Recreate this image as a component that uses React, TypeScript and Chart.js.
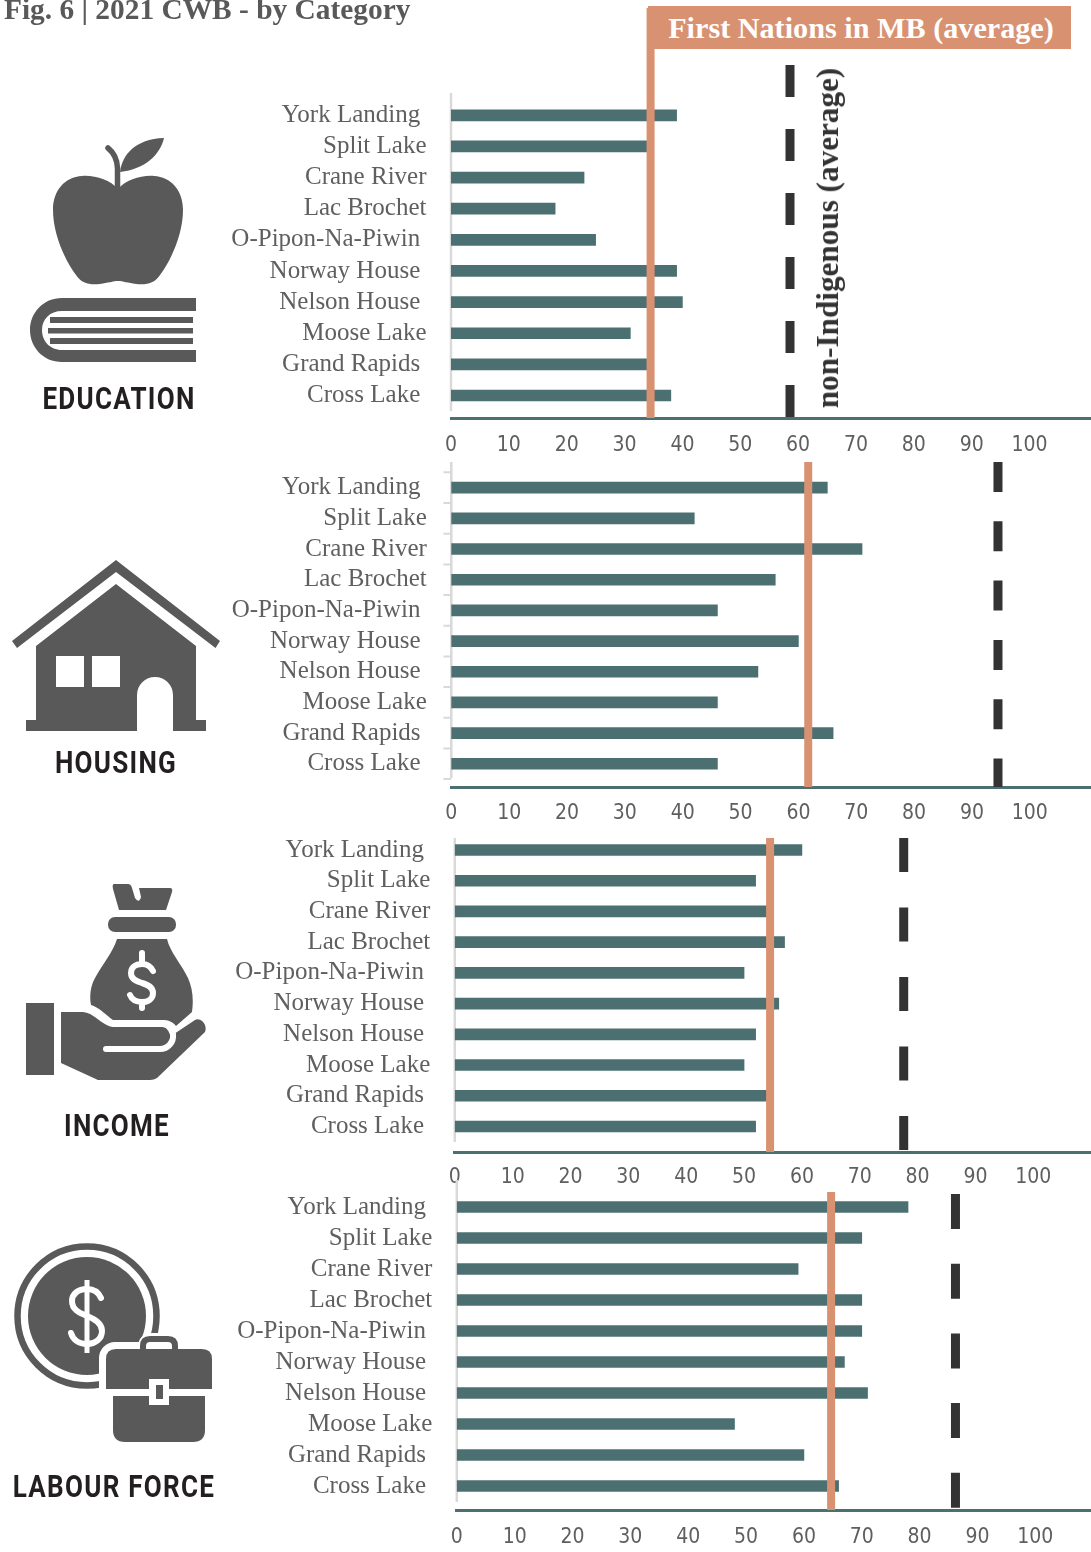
import React, { useEffect, useRef } from "react";
import { Chart, registerables } from "chart.js";

Chart.register(...registerables);

const categories = [
  "York Landing ",
  "Split Lake",
  "Crane River",
  "Lac Brochet",
  "O-Pipon-Na-Piwin ",
  "Norway House ",
  "Nelson House ",
  "Moose Lake",
  "Grand Rapids ",
  "Cross Lake ",
];
const xTickValues = [0, 10, 20, 30, 40, 50, 60, 70, 80, 90, 100];

const educationValues = [39, 35, 23, 18, 25, 39, 40, 31, 35, 38];
const housingValues = [65, 42, 71, 56, 46, 60, 53, 46, 66, 46];
const incomeValues = [60, 52, 54, 57, 50, 56, 52, 50, 54, 52];
const labourValues = [78, 70, 59, 70, 70, 67, 71, 48, 60, 66];

const firstNationsAverage = [34.5, 61.7, 54.5, 64.7];
const nonIndigenousAverage = [58.6, 94.5, 77.6, 86.2];

const TEAL = "#4C7071";
const ORANGE = "#D89272";
const DARK = "#333333";
const GREY_TEXT = "#5F5F5F";
const AXIS_GREY = "#D9D9D9";
const SERIF = '"Liberation Serif", serif';
const NARROW = '"DejaVu Sans Condensed", "DejaVu Sans", sans-serif';
const LABEL_FONT = 'Roboto, sans-serif';
const UNIT_PX = 5.785;

type Panel = {
  values: number[];
  fn: number;
  non: number;
  x0: number;
  top: number;
  bottom: number;
  first: number;
  step: number;
  darkTop: number;
  axisTop: number;
  axisBottom: number;
  dash: number;
  gap: number;
  tickPad: number;
  boundaryTicks: boolean;
};

const panels: Panel[] = [
  { values: educationValues, fn: firstNationsAverage[0], non: nonIndigenousAverage[0], x0: 451, top: 8, bottom: 418, first: 115.3, step: 31.13, darkTop: 65, axisTop: 93, axisBottom: 411, dash: 32, gap: 32, tickPad: 7, boundaryTicks: false },
  { values: housingValues, fn: firstNationsAverage[1], non: nonIndigenousAverage[1], x0: 451.3, top: 462, bottom: 787, first: 487.7, step: 30.67, darkTop: 462, axisTop: 462, axisBottom: 778, dash: 30, gap: 29.3, tickPad: 6, boundaryTicks: true },
  { values: incomeValues, fn: firstNationsAverage[2], non: nonIndigenousAverage[2], x0: 454.8, top: 838, bottom: 1152, first: 850, step: 30.72, darkTop: 838, axisTop: 838, axisBottom: 1142, dash: 34, gap: 35.5, tickPad: 5, boundaryTicks: false },
  { values: labourValues, fn: firstNationsAverage[3], non: nonIndigenousAverage[3], x0: 456.8, top: 1192, bottom: 1510, first: 1207, step: 31, darkTop: 1194, axisTop: 1180, axisBottom: 1502, dash: 35, gap: 34.7, tickPad: 7, boundaryTicks: false },
];

const iconLabels = [
  { text: "EDUCATION", cx: 118.5, cy: 398 },
  { text: "HOUSING", cx: 116, cy: 762 },
  { text: "INCOME", cx: 116.5, cy: 1125 },
  { text: "LABOUR FORCE", cx: 113.5, cy: 1486 },
];

function PanelChart({ panel }: { panel: Panel }) {
  const ref = useRef<HTMLCanvasElement>(null);
  const PAD = 14;
  const AXIS_H = 40;
  const canvasTop = panel.top - PAD;
  const canvasH = panel.bottom - panel.top + PAD + AXIS_H;

  useEffect(() => {
    const toIndex = (px: number) => (px - panel.first) / panel.step;
    const boundaryData: any[] = [];
    if (panel.boundaryTicks) {
      for (let i = 0; i <= categories.length; i++) {
        boundaryData.push({ x: -1.35, y: i - 0.5 }, { x: 0, y: i - 0.5 }, { x: NaN, y: NaN });
      }
    }
    const chart = new Chart(ref.current as HTMLCanvasElement, {
      type: "bar",
      data: {
        datasets: [
          {
            type: "scatter",
            indexAxis: "x",
            label: "First Nations in MB (average)",
            data: [
              { x: panel.fn, y: toIndex(panel.top) },
              { x: panel.fn, y: toIndex(panel.bottom) },
            ],
            showLine: true,
            borderColor: ORANGE,
            borderWidth: 8,
            pointRadius: 0,
            clip: false,
            order: 0,
          },
          {
            type: "scatter",
            indexAxis: "x",
            label: "non-Indigenous (average)",
            data: [
              { x: panel.non, y: toIndex(panel.darkTop) },
              { x: panel.non, y: toIndex(panel.bottom) },
            ],
            showLine: true,
            borderColor: DARK,
            borderWidth: 9,
            borderDash: [panel.dash, panel.gap],
            pointRadius: 0,
            clip: false,
            order: 1,
          },
          {
            type: "bar",
            label: "Community",
            data: panel.values.map((v, i) => ({ x: v, y: i })),
            backgroundColor: TEAL,
            barThickness: 11,
            order: 2,
          },
          {
            type: "scatter",
            indexAxis: "x",
            label: "axis",
            data: [
              { x: 0, y: toIndex(panel.axisTop) },
              { x: 0, y: toIndex(panel.axisBottom) },
            ],
            showLine: true,
            borderColor: AXIS_GREY,
            borderWidth: 2.5,
            pointRadius: 0,
            clip: false,
            order: 3,
          },
          {
            type: "scatter",
            indexAxis: "x",
            label: "axis ticks",
            data: boundaryData,
            showLine: true,
            spanGaps: false,
            borderColor: AXIS_GREY,
            borderWidth: 2,
            pointRadius: 0,
            clip: false,
            order: 4,
          },
        ],
      },
      options: {
        indexAxis: "y",
        animation: false,
        responsive: false,
        events: [],
        layout: { padding: { top: PAD, left: 0, right: 0, bottom: 0 } },
        plugins: { legend: { display: false }, tooltip: { enabled: false } },
        scales: {
          x: {
            type: "linear",
            position: "bottom",
            offset: false,
            min: 0,
            max: (1091 - panel.x0) / UNIT_PX,
            grid: { display: false },
            border: { display: true, color: TEAL, width: 3 },
            afterBuildTicks: (s: any) => {
              s.ticks = xTickValues.map((value) => ({ value }));
            },
            afterFit: (s: any) => {
              s.height = AXIS_H;
            },
            ticks: {
              autoSkip: false,
              maxRotation: 0,
              padding: panel.tickPad,
              color: GREY_TEXT,
              font: { family: NARROW, size: 21 },
            },
          },
          y: {
            type: "linear",
            position: "left",
            reverse: true,
            offset: false,
            min: toIndex(panel.top),
            max: toIndex(panel.bottom),
            grid: { display: false },
            border: { display: false },
            afterBuildTicks: (s: any) => {
              s.ticks = categories.map((_, value) => ({ value }));
            },
            afterFit: (s: any) => {
              s.width = panel.x0;
              s.paddingTop = 0;
              s.paddingBottom = 0;
            },
            ticks: {
              autoSkip: false,
              padding: 16.5,
              color: GREY_TEXT,
              font: { family: SERIF, size: 25 },
              callback: (value: any) => categories[value as number],
            },
          },
        },
      },
    } as any);
    return () => chart.destroy();
  }, [panel]);

  return (
    <canvas
      ref={ref}
      width={1091}
      height={canvasH}
      style={{ position: "absolute", left: 0, top: canvasTop, width: 1091, height: canvasH }}
    />
  );
}

function Icons() {
  const g = "#595959";
  return (
    <svg width={1091} height={1552} style={{ position: "absolute", left: 0, top: 0 }}>
      {/* apple and book */}
      <path fill={g} d="M118 189 C110 180 95 175 82 176 C65 177 53 190 53 210 C53 235 66 262 76 275 C82 284 90 285 100 284 C108 283 113 281 118 281 C123 281 128 283 136 284 C146 285 154 284 160 275 C170 262 183 235 183 210 C183 190 171 177 154 176 C141 175 126 180 118 189 Z" />
      <path fill="none" stroke={g} strokeWidth={5.5} strokeLinecap="round" d="M117.5 189 L117.5 168 C117 158 113 152 108 148" />
      <path fill={g} d="M120 172 C122 155 135 139 164 138 C160 155 145 169 120 172 Z" />
      <path fill={g} d="M196 298 H62 C43 298 30 313 30 330 C30 347 43 362 62 362 H196 V350 H62 C50 350 42 341 42 330 C42 319 50 311 62 311 H196 Z" />
      <rect x={50} y={317} width={143} height={6} fill={g} />
      <rect x={48} y={328} width={145} height={5.5} fill={g} />
      <rect x={50} y={338} width={143} height={6} fill={g} />

      {/* house */}
      <path fill={g} d="M116 560 L220 641 L215.5 648 L116 572 L17 648 L12 641 Z" />
      <path fill={g} d="M116 584 L196 646 V720 H206 V731 H173 V695 A18 18 0 0 0 137 695 V731 H26 V720 H36 V646 Z" />
      <rect x={56} y={656} width={28} height={31} fill="#fff" />
      <rect x={92} y={656} width={28} height={31} fill="#fff" />

      {/* money bag and hand */}
      <path fill={g} d="M114 884 H128 Q131 884 132 888 L135 898 Q139 904 141 897 L139 888 H170 Q173 888 172 892 L166 910 H119 L113 889 Q112 884 114 884 Z" />
      <rect x={108} y={917} width={68} height={15} rx={7} fill={g} />
      <path fill={g} d="M117 939 H167 C170 952 182 965 188 978 C192 987 194 998 192 1012 L176 1026 C172 1021 168 1020 162 1020 H113 C107 1016 100 1008 91 1005 C89 995 91 985 95 978 C102 965 113 952 117 939 Z" />
      <path fill="none" stroke="#fff" strokeWidth={6} strokeLinecap="round" d="M153 971 C150 965 146 964 142 964 C135 964 131 968 131 973 C131 979 136 981 142 983 C149 985 153 988 153 993 C153 999 148 1002 142 1002 C137 1002 132 1000 130 995 M142 953 V962 M142 1003 V1008" />
      <rect x={26} y={1003} width={28} height={72} fill={g} />
      <path fill={g} d="M61 1012 H83 C95 1013 102 1026 113 1027 H160 C166 1027 170 1029 174 1034 L195 1020 C200 1017 208 1024 205 1032 L157 1078 Q154 1080 150 1080 H98 L61 1063 Z" />
      <path fill="none" stroke="#fff" strokeWidth={6} strokeLinecap="round" d="M106 1049 H160 C168 1049 174 1042 173 1034 C172 1030 170 1028 168 1026" />

      {/* coin and briefcase */}
      <circle cx={87} cy={1316} r={69.5} fill="none" stroke={g} strokeWidth={6.5} />
      <circle cx={87} cy={1316} r={59} fill={g} />
      <path fill="none" stroke="#fff" strokeWidth={6} strokeLinecap="round" d="M101 1298 C98 1291 93 1289 87 1289 C78 1289 72 1294 72 1301 C72 1310 80 1313 87 1316 C95 1319 102 1323 102 1331 C102 1339 95 1344 87 1344 C79 1344 73 1340 71 1333" />
      <path fill="none" stroke="#fff" strokeWidth={5} d="M87 1280 V1353" />
      <rect x={99} y={1342} width={120} height={112} rx={16} fill="#fff" />
      <path fill="none" stroke="#fff" strokeWidth={14} d="M145 1349 V1347 Q145 1340 152 1340 H166 Q173 1340 173 1347 V1349" />
      <path fill="none" stroke={g} strokeWidth={6} d="M143 1350 V1346 Q143 1339 150 1339 H168 Q175 1339 175 1346 V1350" />
      <path fill={g} d="M116 1349 H202 Q212 1349 212 1359 V1389 H106 V1359 Q106 1349 116 1349 Z" />
      <path fill={g} d="M113 1396 H205 V1430 Q205 1442 193 1442 H125 Q113 1442 113 1430 Z" />
      <rect x={149} y={1379} width={20} height={26} fill="#fff" />
      <rect x={156} y={1385} width={7} height={14} fill={g} />
    </svg>
  );
}

export default function App() {
  return (
    <div style={{ position: "absolute", left: 0, top: 0, width: 1091, height: 1552, overflow: "hidden", background: "#fff" }}>
      <Icons />
      {panels.map((p, i) => (
        <PanelChart key={i} panel={p} />
      ))}
      <div style={{ position: "absolute", left: 4, top: -7, font: `bold 29.4px ${SERIF}`, color: "#595959", whiteSpace: "nowrap" }}>
        Fig. 6 | 2021 CWB - by Category
      </div>
      <div style={{ position: "absolute", left: 647.5, top: 6, width: 423, height: 43, background: ORANGE, color: "#fff", font: `bold 30.2px ${SERIF}`, lineHeight: "44px", paddingLeft: 4, boxSizing: "border-box", textAlign: "center", whiteSpace: "nowrap" }}>
        First Nations in MB (average)
      </div>
      <div style={{ position: "absolute", left: 828, top: 237.5, transform: "translate(-50%,-50%) rotate(-90deg)", font: `bold 31.2px ${SERIF}`, color: DARK, whiteSpace: "nowrap" }}>
        non-Indigenous (average)
      </div>
      {iconLabels.map((l) => (
        <div key={l.text} style={{ position: "absolute", left: l.cx, top: l.cy, transform: "translate(-50%,-50%) scaleX(0.84)", font: `bold 31px ${LABEL_FONT}`, letterSpacing: 1.5, color: "#231F20", whiteSpace: "nowrap" }}>
          {l.text}
        </div>
      ))}
    </div>
  );
}
